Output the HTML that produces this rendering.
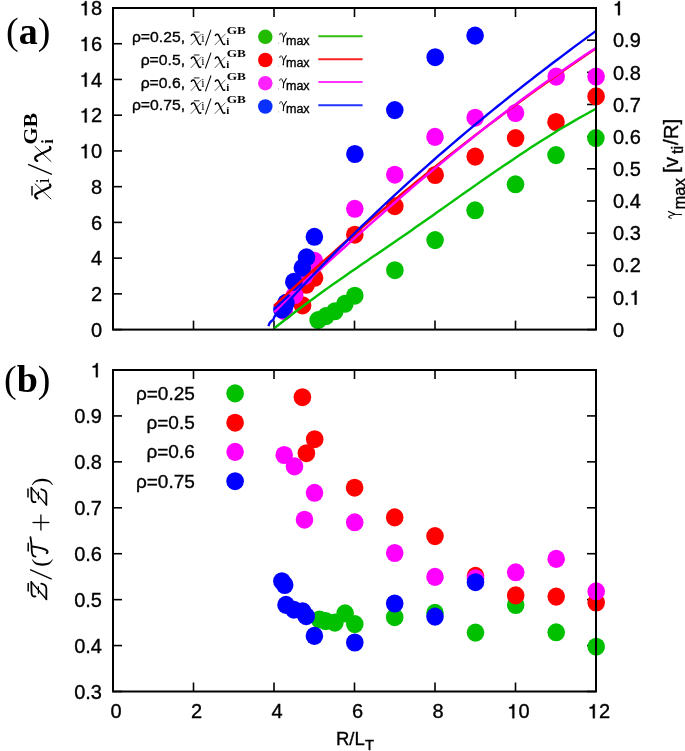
<!DOCTYPE html>
<html><head><meta charset="utf-8"><style>
html,body{margin:0;padding:0;background:#fff;}
svg{display:block;will-change:transform;}
.s{stroke:#000;stroke-width:0.35px;}

</style></head><body>
<svg width="685" height="751" viewBox="0 0 685 751" font-family="Liberation Sans, sans-serif">
<defs><g id="chi"><path d="M0.06,-0.34 C0.1,-0.43 0.2,-0.45 0.25,-0.36 L0.47,0.1 C0.5,0.17 0.55,0.19 0.6,0.15" fill="none" stroke="#000" stroke-width="0.085" stroke-linecap="round"/><path d="M0.04,0.19 L0.62,-0.42" fill="none" stroke="#000" stroke-width="0.035" stroke-linecap="round"/></g><g id="calz" fill="none" stroke="#000" stroke-linecap="round" stroke-linejoin="round"><path d="M0.15,-0.5 C0.13,-0.6 0.18,-0.665 0.3,-0.665 L0.75,-0.675" stroke-width="0.075"/><path d="M0.75,-0.675 L0.03,-0.045" stroke-width="0.055"/><path d="M0.03,-0.045 C0.15,-0.06 0.35,-0.04 0.5,-0.05 C0.6,-0.06 0.66,-0.15 0.68,-0.26" stroke-width="0.075"/><path d="M0.28,-0.38 L0.56,-0.38" stroke-width="0.05"/></g><g id="calt" fill="none" stroke="#000" stroke-linecap="round" stroke-linejoin="round"><path d="M0.04,-0.5 C0.05,-0.6 0.12,-0.655 0.3,-0.655 C0.5,-0.66 0.7,-0.68 0.85,-0.71" stroke-width="0.075"/><path d="M0.46,-0.63 C0.42,-0.35 0.38,-0.12 0.3,-0.03 C0.26,0.01 0.21,0.01 0.19,-0.03" stroke-width="0.085"/></g><g id="gam" fill="none" stroke="#000" stroke-linecap="round" stroke-linejoin="round"><path d="M0.03,-0.33 C0.05,-0.45 0.12,-0.5 0.18,-0.4 L0.29,-0.15" stroke-width="0.06"/><path d="M0.47,-0.46 L0.29,-0.15 L0.268,0.13" stroke-width="0.07"/><circle cx="0.265" cy="0.15" r="0.045" fill="#000" stroke="none"/></g><path id="one" stroke-width="0.0175" d="M0.25,0 L0.25,-0.49 L0.09,-0.49 L0.09,-0.555 C0.19,-0.56 0.255,-0.6 0.265,-0.7 L0.345,-0.7 L0.345,0 Z"/></defs>
<rect width="685" height="751" fill="#fff"/>
<g stroke="#000" stroke-width="1.6"><line x1="113.0" y1="329.6" x2="113.0" y2="320.6"/><line x1="113.0" y1="8" x2="113.0" y2="17"/><line x1="113.0" y1="691.5" x2="113.0" y2="682.5"/><line x1="113.0" y1="370" x2="113.0" y2="379"/><line x1="193.5" y1="329.6" x2="193.5" y2="320.6"/><line x1="193.5" y1="8" x2="193.5" y2="17"/><line x1="193.5" y1="691.5" x2="193.5" y2="682.5"/><line x1="193.5" y1="370" x2="193.5" y2="379"/><line x1="274.0" y1="329.6" x2="274.0" y2="320.6"/><line x1="274.0" y1="8" x2="274.0" y2="17"/><line x1="274.0" y1="691.5" x2="274.0" y2="682.5"/><line x1="274.0" y1="370" x2="274.0" y2="379"/><line x1="354.5" y1="329.6" x2="354.5" y2="320.6"/><line x1="354.5" y1="8" x2="354.5" y2="17"/><line x1="354.5" y1="691.5" x2="354.5" y2="682.5"/><line x1="354.5" y1="370" x2="354.5" y2="379"/><line x1="435.0" y1="329.6" x2="435.0" y2="320.6"/><line x1="435.0" y1="8" x2="435.0" y2="17"/><line x1="435.0" y1="691.5" x2="435.0" y2="682.5"/><line x1="435.0" y1="370" x2="435.0" y2="379"/><line x1="515.5" y1="329.6" x2="515.5" y2="320.6"/><line x1="515.5" y1="8" x2="515.5" y2="17"/><line x1="515.5" y1="691.5" x2="515.5" y2="682.5"/><line x1="515.5" y1="370" x2="515.5" y2="379"/><line x1="596.0" y1="329.6" x2="596.0" y2="320.6"/><line x1="596.0" y1="8" x2="596.0" y2="17"/><line x1="596.0" y1="691.5" x2="596.0" y2="682.5"/><line x1="596.0" y1="370" x2="596.0" y2="379"/><line x1="113" y1="329.6" x2="122" y2="329.6"/><line x1="113" y1="293.86600000000004" x2="122" y2="293.86600000000004"/><line x1="113" y1="258.132" x2="122" y2="258.132"/><line x1="113" y1="222.39800000000002" x2="122" y2="222.39800000000002"/><line x1="113" y1="186.66400000000002" x2="122" y2="186.66400000000002"/><line x1="113" y1="150.93" x2="122" y2="150.93"/><line x1="113" y1="115.19600000000003" x2="122" y2="115.19600000000003"/><line x1="113" y1="79.46200000000002" x2="122" y2="79.46200000000002"/><line x1="113" y1="43.72800000000001" x2="122" y2="43.72800000000001"/><line x1="113" y1="7.994000000000028" x2="122" y2="7.994000000000028"/><line x1="596" y1="329.6" x2="587" y2="329.6"/><line x1="596" y1="297.44" x2="587" y2="297.44"/><line x1="596" y1="265.28000000000003" x2="587" y2="265.28000000000003"/><line x1="596" y1="233.12" x2="587" y2="233.12"/><line x1="596" y1="200.96" x2="587" y2="200.96"/><line x1="596" y1="168.8" x2="587" y2="168.8"/><line x1="596" y1="136.64000000000001" x2="587" y2="136.64000000000001"/><line x1="596" y1="104.48000000000002" x2="587" y2="104.48000000000002"/><line x1="596" y1="72.32" x2="587" y2="72.32"/><line x1="596" y1="40.15999999999997" x2="587" y2="40.15999999999997"/><line x1="596" y1="8.0" x2="587" y2="8.0"/><line x1="113" y1="691.5" x2="122" y2="691.5"/><line x1="596" y1="691.5" x2="587" y2="691.5"/><line x1="113" y1="645.5699999999999" x2="122" y2="645.5699999999999"/><line x1="596" y1="645.5699999999999" x2="587" y2="645.5699999999999"/><line x1="113" y1="599.64" x2="122" y2="599.64"/><line x1="596" y1="599.64" x2="587" y2="599.64"/><line x1="113" y1="553.71" x2="122" y2="553.71"/><line x1="596" y1="553.71" x2="587" y2="553.71"/><line x1="113" y1="507.78" x2="122" y2="507.78"/><line x1="596" y1="507.78" x2="587" y2="507.78"/><line x1="113" y1="461.85" x2="122" y2="461.85"/><line x1="596" y1="461.85" x2="587" y2="461.85"/><line x1="113" y1="415.91999999999996" x2="122" y2="415.91999999999996"/><line x1="596" y1="415.91999999999996" x2="587" y2="415.91999999999996"/><line x1="113" y1="369.99" x2="122" y2="369.99"/><line x1="596" y1="369.99" x2="587" y2="369.99"/></g>
<ellipse cx="318.1" cy="320.1" rx="8.8" ry="9.05" fill="#00c000"/><ellipse cx="326" cy="316.1" rx="8.8" ry="9.05" fill="#00c000"/><ellipse cx="334.8" cy="311.3" rx="8.8" ry="9.05" fill="#00c000"/><ellipse cx="344.9" cy="303.8" rx="8.8" ry="9.05" fill="#00c000"/><ellipse cx="354.8" cy="295.7" rx="8.8" ry="9.05" fill="#00c000"/><ellipse cx="394.9" cy="270.2" rx="8.8" ry="9.05" fill="#00c000"/><ellipse cx="435.1" cy="240.1" rx="8.8" ry="9.05" fill="#00c000"/><ellipse cx="475.1" cy="210.3" rx="8.8" ry="9.05" fill="#00c000"/><ellipse cx="515.5" cy="184.3" rx="8.8" ry="9.05" fill="#00c000"/><ellipse cx="556" cy="155.1" rx="8.8" ry="9.05" fill="#00c000"/><ellipse cx="595.9" cy="138.1" rx="8.8" ry="9.05" fill="#00c000"/>
<ellipse cx="302.6" cy="305.4" rx="8.8" ry="9.05" fill="#ff0000"/><ellipse cx="306.2" cy="284.8" rx="8.8" ry="9.05" fill="#ff0000"/><ellipse cx="314.6" cy="277.8" rx="8.8" ry="9.05" fill="#ff0000"/><ellipse cx="354.8" cy="234.7" rx="8.8" ry="9.05" fill="#ff0000"/><ellipse cx="394.8" cy="206.2" rx="8.8" ry="9.05" fill="#ff0000"/><ellipse cx="435.2" cy="175" rx="8.8" ry="9.05" fill="#ff0000"/><ellipse cx="475.2" cy="156.6" rx="8.8" ry="9.05" fill="#ff0000"/><ellipse cx="515.6" cy="138.1" rx="8.8" ry="9.05" fill="#ff0000"/><ellipse cx="556" cy="122" rx="8.8" ry="9.05" fill="#ff0000"/><ellipse cx="596.1" cy="96.4" rx="8.8" ry="9.05" fill="#ff0000"/>
<ellipse cx="284.2" cy="311" rx="8.8" ry="9.05" fill="#ff00ff"/><ellipse cx="294.6" cy="295.2" rx="8.8" ry="9.05" fill="#ff00ff"/><ellipse cx="304.5" cy="276" rx="8.8" ry="9.05" fill="#ff00ff"/><ellipse cx="314.4" cy="260.9" rx="8.8" ry="9.05" fill="#ff00ff"/><ellipse cx="354.8" cy="208.8" rx="8.8" ry="9.05" fill="#ff00ff"/><ellipse cx="394.8" cy="174.7" rx="8.8" ry="9.05" fill="#ff00ff"/><ellipse cx="435" cy="136.9" rx="8.8" ry="9.05" fill="#ff00ff"/><ellipse cx="475.2" cy="117.7" rx="8.8" ry="9.05" fill="#ff00ff"/><ellipse cx="515.5" cy="113" rx="8.8" ry="9.05" fill="#ff00ff"/><ellipse cx="556.2" cy="76.6" rx="8.8" ry="9.05" fill="#ff00ff"/><ellipse cx="596.1" cy="76.6" rx="8.8" ry="9.05" fill="#ff00ff"/>
<ellipse cx="281.9" cy="309.5" rx="8.8" ry="9.05" fill="#0000ff"/><ellipse cx="284.7" cy="306" rx="8.8" ry="9.05" fill="#0000ff"/><ellipse cx="286" cy="302.8" rx="8.8" ry="9.05" fill="#0000ff"/><ellipse cx="293.8" cy="281.9" rx="8.8" ry="9.05" fill="#0000ff"/><ellipse cx="302.4" cy="267.8" rx="8.8" ry="9.05" fill="#0000ff"/><ellipse cx="306.5" cy="257.4" rx="8.8" ry="9.05" fill="#0000ff"/><ellipse cx="314.4" cy="236.8" rx="8.8" ry="9.05" fill="#0000ff"/><ellipse cx="354.9" cy="154.0" rx="8.8" ry="9.05" fill="#0000ff"/><ellipse cx="394.8" cy="110.1" rx="8.8" ry="9.05" fill="#0000ff"/><ellipse cx="435.2" cy="57.2" rx="8.8" ry="9.05" fill="#0000ff"/><ellipse cx="475.1" cy="35.6" rx="8.8" ry="9.05" fill="#0000ff"/>

<polyline points="274.2,328.3 279.7,324.0 285.1,319.7 290.6,315.5 296.0,311.3 301.5,307.2 306.9,303.2 312.4,299.2 317.8,295.2 323.3,291.3 328.7,287.4 334.2,283.5 339.7,279.7 345.1,275.9 350.6,272.1 356.0,268.4 361.5,264.6 366.9,260.9 372.4,257.1 377.8,253.4 383.3,249.7 388.7,245.9 394.2,242.2 399.6,238.5 405.1,234.7 410.6,230.9 416.0,227.1 421.5,223.3 426.9,219.5 432.4,215.7 437.8,211.8 443.3,208.0 448.7,204.1 454.2,200.3 459.6,196.4 465.1,192.6 470.6,188.8 476.0,184.9 481.5,181.1 486.9,177.3 492.4,173.6 497.8,169.8 503.3,166.1 508.7,162.4 514.2,158.7 519.6,155.0 525.1,151.4 530.5,147.8 536.0,144.3 541.5,140.8 546.9,137.4 552.4,134.0 557.8,130.6 563.3,127.3 568.7,124.1 574.2,120.9 579.6,117.8 585.1,114.7 590.5,111.7 596.0,108.8" fill="none" stroke="#00c000" stroke-width="2.4" stroke-linejoin="round"/>
<polyline points="274.0,306.0 279.5,300.9 284.9,295.9 290.4,290.9 295.8,285.9 301.3,281.0 306.7,276.1 312.2,271.2 317.7,266.3 323.1,261.4 328.6,256.6 334.0,251.8 339.5,247.0 344.9,242.2 350.4,237.5 355.9,232.7 361.3,228.0 366.8,223.4 372.2,218.7 377.7,214.1 383.2,209.5 388.6,204.9 394.1,200.3 399.5,195.8 405.0,191.3 410.4,186.8 415.9,182.3 421.4,177.9 426.8,173.5 432.3,169.1 437.7,164.7 443.2,160.4 448.6,156.0 454.1,151.7 459.6,147.5 465.0,143.2 470.5,139.0 475.9,134.8 481.4,130.6 486.8,126.4 492.3,122.3 497.8,118.2 503.2,114.1 508.7,110.1 514.1,106.0 519.6,102.0 525.1,98.0 530.5,94.1 536.0,90.1 541.4,86.2 546.9,82.3 552.3,78.5 557.8,74.6 563.3,70.8 568.7,67.0 574.2,63.3 579.6,59.5 585.1,55.8 590.5,52.1 596.0,48.4" fill="none" stroke="#ff0000" stroke-width="2.4" stroke-linejoin="round"/>
<polyline points="274.4,312.2 279.9,307.0 285.3,301.9 290.8,296.8 296.2,291.7 301.7,286.6 307.1,281.5 312.6,276.5 318.0,271.4 323.5,266.4 328.9,261.4 334.4,256.4 339.8,251.5 345.3,246.5 350.7,241.6 356.2,236.7 361.6,231.8 367.1,226.9 372.5,222.1 378.0,217.3 383.4,212.5 388.9,207.7 394.3,203.0 399.8,198.2 405.2,193.5 410.7,188.9 416.1,184.2 421.6,179.6 427.0,175.0 432.5,170.4 437.9,165.9 443.4,161.4 448.8,156.9 454.3,152.4 459.7,148.0 465.2,143.6 470.6,139.2 476.1,134.9 481.5,130.6 487.0,126.3 492.4,122.1 497.9,117.8 503.3,113.7 508.8,109.5 514.2,105.4 519.7,101.3 525.1,97.3 530.6,93.2 536.0,89.3 541.5,85.3 546.9,81.4 552.4,77.6 557.8,73.7 563.3,69.9 568.7,66.2 574.2,62.5 579.6,58.8 585.1,55.1 590.5,51.5 596.0,48.0" fill="none" stroke="#ff00ff" stroke-width="2.4" stroke-linejoin="round"/>
<polyline points="268.4,326.1 269.6,323.1 271,321.5 272.4,320.4 273.6,318.9 274.6,316.4 280.0,310.4 285.5,304.4 290.9,298.6 296.4,292.7 301.8,286.9 307.3,281.2 312.7,275.5 318.2,269.8 323.6,264.2 329.1,258.7 334.5,253.2 340.0,247.7 345.4,242.3 350.9,236.9 356.3,231.5 361.8,226.2 367.2,221.0 372.7,215.8 378.1,210.6 383.5,205.5 389.0,200.4 394.4,195.3 399.9,190.3 405.3,185.3 410.8,180.4 416.2,175.5 421.7,170.6 427.1,165.8 432.6,161.0 438.0,156.2 443.5,151.5 448.9,146.8 454.4,142.1 459.8,137.5 465.3,132.9 470.7,128.3 476.2,123.8 481.6,119.3 487.1,114.8 492.5,110.4 497.9,106.0 503.4,101.6 508.8,97.2 514.3,92.9 519.7,88.6 525.2,84.3 530.6,80.1 536.1,75.8 541.5,71.6 547.0,67.5 552.4,63.3 557.9,59.2 563.3,55.1 568.8,51.0 574.2,46.9 579.7,42.9 585.1,38.9 590.6,34.9 596.0,30.9" fill="none" stroke="#0000ff" stroke-width="2.4" stroke-linejoin="round"/>

<ellipse cx="319.5" cy="619.5" rx="8.8" ry="9.05" fill="#00c000"/><ellipse cx="325.7" cy="621.1" rx="8.8" ry="9.05" fill="#00c000"/><ellipse cx="334.9" cy="622.6" rx="8.8" ry="9.05" fill="#00c000"/><ellipse cx="345.1" cy="613.4" rx="8.8" ry="9.05" fill="#00c000"/><ellipse cx="354.8" cy="624.1" rx="8.8" ry="9.05" fill="#00c000"/><ellipse cx="394.7" cy="617.2" rx="8.8" ry="9.05" fill="#00c000"/><ellipse cx="435" cy="612.8" rx="8.8" ry="9.05" fill="#00c000"/><ellipse cx="475.5" cy="632.6" rx="8.8" ry="9.05" fill="#00c000"/><ellipse cx="515.7" cy="605" rx="8.8" ry="9.05" fill="#00c000"/><ellipse cx="556.2" cy="632.3" rx="8.8" ry="9.05" fill="#00c000"/><ellipse cx="596.2" cy="646.7" rx="8.8" ry="9.05" fill="#00c000"/>
<ellipse cx="302.4" cy="397.2" rx="8.8" ry="9.05" fill="#ff0000"/><ellipse cx="306.4" cy="453.2" rx="8.8" ry="9.05" fill="#ff0000"/><ellipse cx="314.7" cy="439.2" rx="8.8" ry="9.05" fill="#ff0000"/><ellipse cx="354.6" cy="487.7" rx="8.8" ry="9.05" fill="#ff0000"/><ellipse cx="394.7" cy="517.4" rx="8.8" ry="9.05" fill="#ff0000"/><ellipse cx="435" cy="536.1" rx="8.8" ry="9.05" fill="#ff0000"/><ellipse cx="475.5" cy="575.8" rx="8.8" ry="9.05" fill="#ff0000"/><ellipse cx="515.7" cy="595.4" rx="8.8" ry="9.05" fill="#ff0000"/><ellipse cx="556.2" cy="596.6" rx="8.8" ry="9.05" fill="#ff0000"/><ellipse cx="596.2" cy="602.5" rx="8.8" ry="9.05" fill="#ff0000"/>
<ellipse cx="284.2" cy="455" rx="8.8" ry="9.05" fill="#ff00ff"/><ellipse cx="294.5" cy="466.4" rx="8.8" ry="9.05" fill="#ff00ff"/><ellipse cx="304.5" cy="519.7" rx="8.8" ry="9.05" fill="#ff00ff"/><ellipse cx="314.5" cy="492.8" rx="8.8" ry="9.05" fill="#ff00ff"/><ellipse cx="354.7" cy="522.3" rx="8.8" ry="9.05" fill="#ff00ff"/><ellipse cx="394.7" cy="553" rx="8.8" ry="9.05" fill="#ff00ff"/><ellipse cx="435" cy="576.9" rx="8.8" ry="9.05" fill="#ff00ff"/><ellipse cx="475.5" cy="578.3" rx="8.8" ry="9.05" fill="#ff00ff"/><ellipse cx="515.7" cy="572.3" rx="8.8" ry="9.05" fill="#ff00ff"/><ellipse cx="556.2" cy="558.9" rx="8.8" ry="9.05" fill="#ff00ff"/><ellipse cx="596.2" cy="591.4" rx="8.8" ry="9.05" fill="#ff00ff"/>
<ellipse cx="281.9" cy="581.2" rx="8.8" ry="9.05" fill="#0000ff"/><ellipse cx="284.7" cy="585" rx="8.8" ry="9.05" fill="#0000ff"/><ellipse cx="286" cy="604.9" rx="8.8" ry="9.05" fill="#0000ff"/><ellipse cx="293.9" cy="609.7" rx="8.8" ry="9.05" fill="#0000ff"/><ellipse cx="302.7" cy="611.4" rx="8.8" ry="9.05" fill="#0000ff"/><ellipse cx="306.2" cy="616.2" rx="8.8" ry="9.05" fill="#0000ff"/><ellipse cx="314.4" cy="635.9" rx="8.8" ry="9.05" fill="#0000ff"/><ellipse cx="354.8" cy="642.5" rx="8.8" ry="9.05" fill="#0000ff"/><ellipse cx="394.7" cy="603.5" rx="8.8" ry="9.05" fill="#0000ff"/><ellipse cx="435" cy="616.6" rx="8.8" ry="9.05" fill="#0000ff"/><ellipse cx="475.5" cy="582.2" rx="8.8" ry="9.05" fill="#0000ff"/>

<g fill="none" stroke="#000" stroke-width="2">
<rect x="113" y="8" width="483" height="321.6"/>
<rect x="113" y="370" width="483" height="321.5"/>
</g>
<g font-size="20" class="s"><text x="90.88" y="336.80" font-size="20">0</text><text x="90.88" y="301.07" font-size="20">2</text><text x="90.88" y="265.33" font-size="20">4</text><text x="90.88" y="229.60" font-size="20">6</text><text x="90.88" y="193.86" font-size="20">8</text><use href="#one" transform="translate(79.76,158.13) scale(20)"/><text x="90.88" y="158.13" font-size="20">0</text><use href="#one" transform="translate(79.76,122.40) scale(20)"/><text x="90.88" y="122.40" font-size="20">2</text><use href="#one" transform="translate(79.76,86.66) scale(20)"/><text x="90.88" y="86.66" font-size="20">4</text><use href="#one" transform="translate(79.76,50.93) scale(20)"/><text x="90.88" y="50.93" font-size="20">6</text><use href="#one" transform="translate(79.76,15.19) scale(20)"/><text x="90.88" y="15.19" font-size="20">8</text><text x="613.00" y="336.80" font-size="20">0</text><text x="613.00" y="304.64" font-size="20">0.</text><use href="#one" transform="translate(629.68,304.64) scale(20)"/><text x="613.00" y="272.48" font-size="20">0.2</text><text x="613.00" y="240.32" font-size="20">0.3</text><text x="613.00" y="208.16" font-size="20">0.4</text><text x="613.00" y="176.00" font-size="20">0.5</text><text x="613.00" y="143.84" font-size="20">0.6</text><text x="613.00" y="111.68" font-size="20">0.7</text><text x="613.00" y="79.52" font-size="20">0.8</text><text x="613.00" y="47.36" font-size="20">0.9</text><use href="#one" transform="translate(613.00,15.20) scale(20)"/><text x="74.20" y="698.70" font-size="20">0.3</text><text x="74.20" y="652.77" font-size="20">0.4</text><text x="74.20" y="606.84" font-size="20">0.5</text><text x="74.20" y="560.91" font-size="20">0.6</text><text x="74.20" y="514.98" font-size="20">0.7</text><text x="74.20" y="469.05" font-size="20">0.8</text><text x="74.20" y="423.12" font-size="20">0.9</text><use href="#one" transform="translate(90.88,377.19) scale(20)"/><text x="110.44" y="718.20" font-size="20">0</text><text x="190.94" y="718.20" font-size="20">2</text><text x="271.44" y="718.20" font-size="20">4</text><text x="351.94" y="718.20" font-size="20">6</text><text x="432.44" y="718.20" font-size="20">8</text><use href="#one" transform="translate(507.38,718.20) scale(20)"/><text x="518.50" y="718.20" font-size="20">0</text><use href="#one" transform="translate(587.88,718.20) scale(20)"/><text x="599.00" y="718.20" font-size="20">2</text></g>
<text class="s" transform="translate(185.0,41.7) scale(1.035,1)" text-anchor="end" font-size="15.2">ρ=0.25,</text><use href="#chi" transform="translate(190.3,41.5) scale(17.5)"/><line x1="193.8" y1="32.1" x2="199.5" y2="32.1" stroke="#000" stroke-width="0.9"/><text x="201.2" y="41.6" font-family="Liberation Serif" font-size="12">i</text><line x1="211" y1="29.700000000000003" x2="205.4" y2="45.6" stroke="#000" stroke-width="1.05"/><use href="#chi" transform="translate(214.3,41.5) scale(17.5)"/><text x="226.3" y="45.2" font-family="Liberation Serif" font-weight="bold" font-size="11">i</text><text x="226.7" y="34.300000000000004" font-family="Liberation Serif" font-weight="bold" font-size="11" textLength="19.2" lengthAdjust="spacingAndGlyphs">GB</text><circle cx="265.3" cy="36.8" r="7.25" fill="#22bb00"/><use href="#gam" transform="translate(279.3,39.6) scale(15)"/><circle cx="278.6" cy="43.1" r="0.6" fill="#aaa"/><text class="s" x="286" y="44.5" font-size="12.5">max</text><line x1="318.3" y1="36.2" x2="362.6" y2="36.2" stroke="#33bb11" stroke-width="2"/><text class="s" transform="translate(185.0,64.6) scale(1.035,1)" text-anchor="end" font-size="15.2">ρ=0.5,</text><use href="#chi" transform="translate(190.3,64.4) scale(17.5)"/><line x1="193.8" y1="55.0" x2="199.5" y2="55.0" stroke="#000" stroke-width="0.9"/><text x="201.2" y="64.5" font-family="Liberation Serif" font-size="12">i</text><line x1="211" y1="52.6" x2="205.4" y2="68.5" stroke="#000" stroke-width="1.05"/><use href="#chi" transform="translate(214.3,64.4) scale(17.5)"/><text x="226.3" y="68.1" font-family="Liberation Serif" font-weight="bold" font-size="11">i</text><text x="226.7" y="57.2" font-family="Liberation Serif" font-weight="bold" font-size="11" textLength="19.2" lengthAdjust="spacingAndGlyphs">GB</text><circle cx="265.3" cy="60.0" r="7.25" fill="#ff0000"/><use href="#gam" transform="translate(279.3,62.5) scale(15)"/><circle cx="278.6" cy="66.0" r="0.6" fill="#aaa"/><text class="s" x="286" y="67.4" font-size="12.5">max</text><line x1="318.3" y1="59.3" x2="362.6" y2="59.3" stroke="#ff2222" stroke-width="2"/><text class="s" transform="translate(185.0,87.5) scale(1.035,1)" text-anchor="end" font-size="15.2">ρ=0.6,</text><use href="#chi" transform="translate(190.3,87.30000000000001) scale(17.5)"/><line x1="193.8" y1="77.9" x2="199.5" y2="77.9" stroke="#000" stroke-width="0.9"/><text x="201.2" y="87.4" font-family="Liberation Serif" font-size="12">i</text><line x1="211" y1="75.5" x2="205.4" y2="91.4" stroke="#000" stroke-width="1.05"/><use href="#chi" transform="translate(214.3,87.30000000000001) scale(17.5)"/><text x="226.3" y="91.0" font-family="Liberation Serif" font-weight="bold" font-size="11">i</text><text x="226.7" y="80.10000000000001" font-family="Liberation Serif" font-weight="bold" font-size="11" textLength="19.2" lengthAdjust="spacingAndGlyphs">GB</text><circle cx="265.3" cy="83.2" r="7.25" fill="#ff22ff"/><use href="#gam" transform="translate(279.3,85.4) scale(15)"/><circle cx="278.6" cy="88.9" r="0.6" fill="#aaa"/><text class="s" x="286" y="90.30000000000001" font-size="12.5">max</text><line x1="318.3" y1="82.1" x2="362.6" y2="82.1" stroke="#ff33ff" stroke-width="2"/><text class="s" transform="translate(185.0,110.39999999999999) scale(1.035,1)" text-anchor="end" font-size="15.2">ρ=0.75,</text><use href="#chi" transform="translate(190.3,110.2) scale(17.5)"/><line x1="193.8" y1="100.8" x2="199.5" y2="100.8" stroke="#000" stroke-width="0.9"/><text x="201.2" y="110.3" font-family="Liberation Serif" font-size="12">i</text><line x1="211" y1="98.39999999999999" x2="205.4" y2="114.3" stroke="#000" stroke-width="1.05"/><use href="#chi" transform="translate(214.3,110.2) scale(17.5)"/><text x="226.3" y="113.89999999999999" font-family="Liberation Serif" font-weight="bold" font-size="11">i</text><text x="226.7" y="103.0" font-family="Liberation Serif" font-weight="bold" font-size="11" textLength="19.2" lengthAdjust="spacingAndGlyphs">GB</text><circle cx="265.3" cy="106.5" r="7.25" fill="#0a30ff"/><use href="#gam" transform="translate(279.3,108.3) scale(15)"/><circle cx="278.6" cy="111.8" r="0.6" fill="#aaa"/><text class="s" x="286" y="113.2" font-size="12.5">max</text><line x1="318.3" y1="105.2" x2="362.6" y2="105.2" stroke="#2233ff" stroke-width="2"/>
<text class="s" x="194.8" y="399.9" text-anchor="end" font-size="19">ρ=0.25</text><ellipse cx="235.1" cy="393.4" rx="8.8" ry="9.05" fill="#00c000"/><text class="s" x="194.8" y="429.1" text-anchor="end" font-size="19">ρ=0.5</text><ellipse cx="235.1" cy="422.7" rx="8.8" ry="9.05" fill="#ff0000"/><text class="s" x="194.8" y="458.4" text-anchor="end" font-size="19">ρ=0.6</text><ellipse cx="235.1" cy="451.9" rx="8.8" ry="9.05" fill="#ff00ff"/><text class="s" x="194.8" y="487.6" text-anchor="end" font-size="19">ρ=0.75</text><ellipse cx="235.1" cy="481.2" rx="8.8" ry="9.05" fill="#0000ff"/>
<text x="6" y="43.6" font-family="Liberation Serif" font-size="38">(<tspan font-weight="bold">a</tspan>)</text>
<text x="4" y="391.5" font-family="Liberation Serif" font-size="38">(<tspan font-weight="bold">b</tspan>)</text>
<g class="s"><text x="336" y="744.7" font-size="18.5">R/L</text><text x="365" y="749.8" font-size="14.8">T</text></g>
<g transform="translate(678,219) rotate(-90)" font-size="20.5" class="s"><use href="#gam" transform="translate(0.3,0) scale(15.5,20.5)"/><text x="9.6" y="6.8" font-size="16.5">max</text><text x="46" y="0">[v</text><text x="65" y="4.5" font-size="16.5">ti</text><text x="74" y="0">/R]</text></g>
<g transform="translate(46,200) rotate(-90)"><use href="#chi" transform="translate(0,0) scale(26)"/><line x1="4.6" y1="-14" x2="14.1" y2="-14" stroke="#000" stroke-width="1.4"/><text x="16.8" y="3.3" font-family="Liberation Serif" font-size="18">i</text><line x1="25.6" y1="5.9" x2="35.6" y2="-17.9" stroke="#000" stroke-width="1.4"/><use href="#chi" transform="translate(37.5,0) scale(26)"/><text x="56.2" y="7.1" font-family="Liberation Serif" font-weight="bold" font-size="16">i</text><text x="55.4" y="-9.3" font-family="Liberation Serif" font-weight="bold" font-size="18.5" textLength="31.6" lengthAdjust="spacingAndGlyphs">GB</text></g>
<g transform="translate(47.5,600) rotate(-90)"><use href="#calz" transform="translate(0,0) scale(24)"/><line x1="8.4" y1="-19.3" x2="17" y2="-19.3" stroke="#000" stroke-width="1.5"/><line x1="20.9" y1="4.2" x2="30.4" y2="-17.4" stroke="#000" stroke-width="1.3"/><text x="33.2" y="0" font-family="Liberation Serif" font-size="24">(</text><use href="#calt" transform="translate(42.4,0) scale(24)"/><line x1="48.4" y1="-19.3" x2="57.2" y2="-19.3" stroke="#000" stroke-width="1.5"/><line x1="69.6" y1="-6.6" x2="85.5" y2="-6.6" stroke="#000" stroke-width="1.3"/><line x1="77.5" y1="-15" x2="77.5" y2="1.8" stroke="#000" stroke-width="1.3"/><use href="#calz" transform="translate(94.4,0) scale(24)"/><line x1="102.6" y1="-19.5" x2="111.6" y2="-19.5" stroke="#000" stroke-width="1.5"/><text x="114.2" y="0" font-family="Liberation Serif" font-size="24">)</text></g>
</svg>
</body></html>
